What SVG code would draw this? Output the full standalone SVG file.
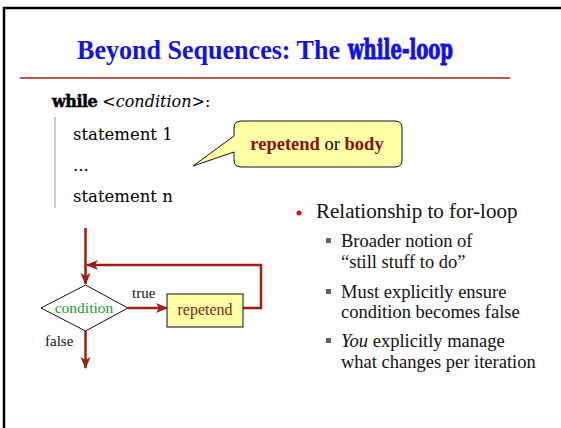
<svg xmlns="http://www.w3.org/2000/svg" width="561" height="428" viewBox="0 0 561 428">
  <style>
    .serif { font-family: "Liberation Serif", "Times New Roman", serif; }
    .slab { font-family: "DejaVu Serif", serif; }
    .flow { fill: none; stroke: #a01c10; stroke-width: 2.5; }
    .box { fill: #ffffa8; stroke: #333; stroke-width: 1.2; }
    .bodytxt { font-family: "Liberation Serif", "Times New Roman", serif; font-size: 18.5px; fill: #111; }
    .sq { fill: #666; }
  </style>
  <defs>
    <marker id="arrow" markerUnits="userSpaceOnUse" viewBox="0 0 12 12" markerWidth="12" markerHeight="12" refX="11" refY="6" orient="auto">
      <path d="M0,1 L12,6 L0,11 L3,6 z" fill="#a01c10"/>
    </marker>
  </defs>

  <rect width="561" height="428" fill="#fff"/>
  <!-- slide frame -->
  <path d="M4,430 V8 H563" fill="none" stroke="#000" stroke-width="2.5"/>

  <!-- title -->
  <g id="title">
    <text x="77" y="59" class="serif" font-size="28" font-weight="bold" fill="#1010f0" textLength="263" lengthAdjust="spacingAndGlyphs">Beyond Sequences: The</text>
    <text x="348" y="59" font-family="'DejaVu Serif Condensed', 'DejaVu Serif', serif" font-size="27" font-weight="bold" fill="#1010f0" stroke="#1010f0" stroke-width="0.9" textLength="105" lengthAdjust="spacingAndGlyphs">while-loop</text>
    <line x1="20" y1="78" x2="510" y2="78" stroke="#a01c10" stroke-width="1.5"/>
  </g>

  <!-- code block -->
  <g id="code">
    <text x="52" y="107" class="slab" font-size="16"><tspan font-weight="bold" letter-spacing="-0.5" stroke="#000" stroke-width="0.5">while</tspan> &lt;<tspan font-style="italic">condition</tspan>&gt;:</text>
    <line x1="55" y1="117" x2="55" y2="208" stroke="#bbb" stroke-width="1.5"/>
    <text x="73" y="140" class="slab" font-size="16.5">statement 1</text>
    <text x="73" y="171" class="slab" font-size="16.5">...</text>
    <text x="73" y="202" class="slab" font-size="16.5">statement n</text>
  </g>

  <!-- callout -->
  <g id="callout">
    <path d="M241,121 H395 Q402,121 402,128 V160 Q402,167 395,167 H241 Q234,167 234,160 V152 L193,166 L234,136 V128 Q234,121 241,121 Z" fill="#ffffa8" stroke="#111" stroke-width="1"/>
    <text x="317" y="150" text-anchor="middle" class="serif" font-size="18.5"><tspan font-weight="bold" fill="#8b1010">repetend</tspan> or <tspan font-weight="bold" fill="#8b1010">body</tspan></text>
  </g>

  <!-- flowchart -->
  <g id="connectors">
    <line class="flow" x1="85.5" y1="228" x2="85.5" y2="284" marker-end="url(#arrow)"/>
    <line class="flow" x1="128" y1="308" x2="167" y2="308" marker-end="url(#arrow)"/>
    <polyline class="flow" points="243,308 261,308 261,265 87,265" marker-end="url(#arrow)"/>
    <line class="flow" x1="85.5" y1="331" x2="85.5" y2="368" marker-end="url(#arrow)"/>
    <text x="132" y="298" class="serif" font-size="15" fill="#111">true</text>
    <text x="45" y="346" class="serif" font-size="15" fill="#111">false</text>
  </g>
  <g id="condition">
    <polygon points="85.5,285 128,308 85.5,331 41,308" fill="#fff" stroke="#111" stroke-width="1"/>
    <text x="84" y="313" text-anchor="middle" class="serif" font-size="15.5" fill="#2a962a">condition</text>
  </g>
  <g id="repetend">
    <rect class="box" x="167" y="294" width="76" height="33"/>
    <text x="205" y="315" text-anchor="middle" class="serif" font-size="16" fill="#8b1a1a">repetend</text>
  </g>

  <!-- bullet list -->
  <g id="bullets">
    <circle cx="299" cy="213" r="2.5" fill="#e01010"/>
    <text x="316" y="218" class="serif" font-size="21" fill="#111">Relationship to for-loop</text>
    <rect class="sq" x="326" y="238" width="5" height="5"/>
    <text x="341" y="247" class="bodytxt">Broader notion of</text>
    <text x="341" y="268" class="bodytxt">“still stuff to do”</text>
    <rect class="sq" x="326" y="289" width="5" height="5"/>
    <text x="341" y="298" class="bodytxt">Must explicitly ensure</text>
    <text x="341" y="318" class="bodytxt">condition becomes false</text>
    <rect class="sq" x="326" y="338" width="5" height="5"/>
    <text x="341" y="347" class="bodytxt"><tspan font-style="italic">You</tspan> explicitly manage</text>
    <text x="341" y="368" class="bodytxt">what changes per iteration</text>
  </g>
</svg>
